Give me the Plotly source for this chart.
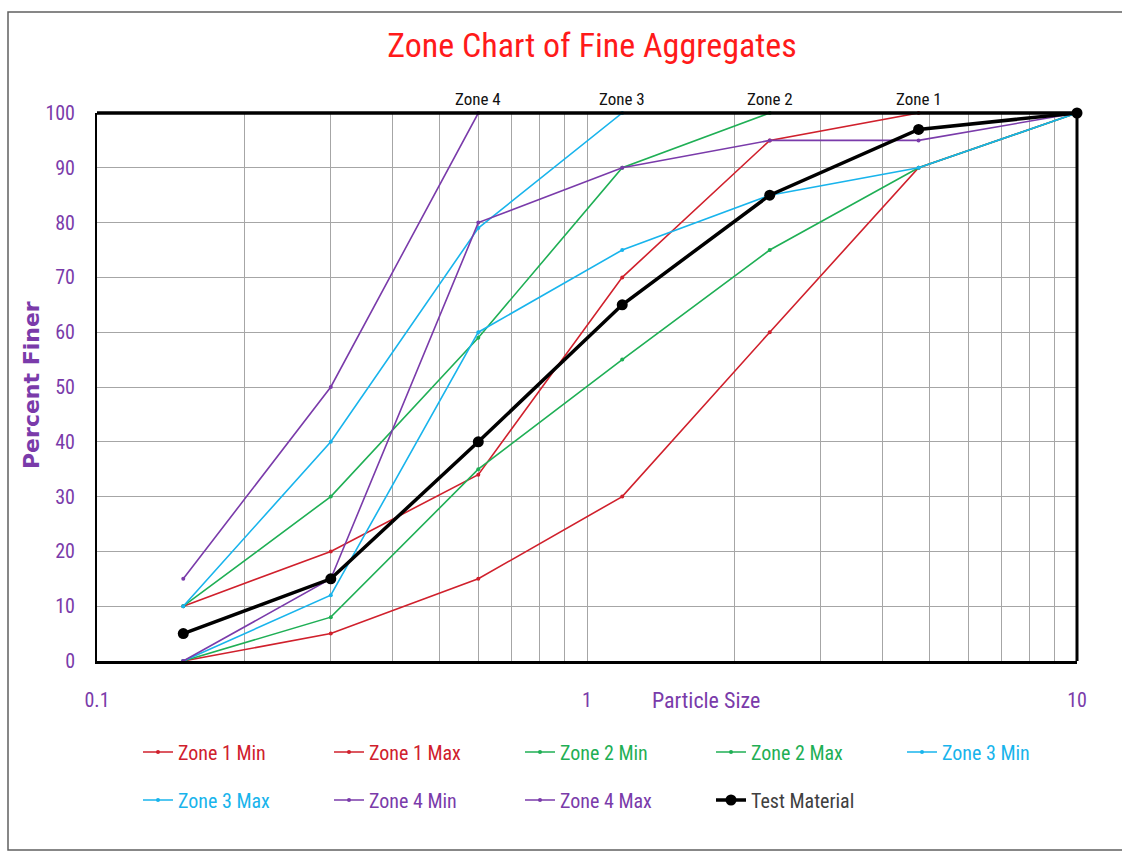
import math
import plotly.graph_objects as go

# ---------------- data ----------------
sieve = [0.15, 0.3, 0.6, 1.18, 2.36, 4.75, 10]

zone1_min = [0, 5, 15, 30, 60, 90, 100]
zone1_max = [10, 20, 34, 70, 95, 100]
zone2_min = [0, 8, 35, 55, 75, 90, 100]
zone2_max = [10, 30, 59, 90, 100]
zone3_min = [0, 12, 60, 75, 85, 90, 100]
zone3_max = [10, 40, 79, 100]
zone4_min = [0, 15, 80, 90, 95, 95, 100]
zone4_max = [15, 50, 100]
test_material = [5, 15, 40, 65, 85, 97, 100]

zone_labels = ["Zone 4", "Zone 3", "Zone 2", "Zone 1"]
zone_label_x = [0.6, 1.18, 2.36, 4.75]

x_ticks = [0.1, 1, 10]
x_tick_text = ["0.1", "1", "10"]
x_minor = [0.2, 0.3, 0.4, 0.5, 0.6, 0.7, 0.8, 0.9, 2, 3, 4, 5, 6, 7, 8, 9]
y_ticks = [0, 10, 20, 30, 40, 50, 60, 70, 80, 90, 100]

# ---------------- style ----------------
RED = "#D0202C"
GREEN = "#1FAF55"
CYAN = "#18B4EC"
PURPLE = "#7A3BAA"
BLACK = "#000000"
FONT = "Liberation Sans Narrow, Arial Narrow, Roboto Condensed, Roboto, sans-serif"

W, H = 1122, 853
L, R, T, B = 97, 45, 113, 192
PW, PH = W - L - R, H - T - B


def px_x(p):
    return (p - L) / PW


def px_y(p):
    return (H - B - p) / PH


series = [
    ("Zone 1 Min", zone1_min, RED, "legend"),
    ("Zone 1 Max", zone1_max, RED, "legend"),
    ("Zone 2 Min", zone2_min, GREEN, "legend"),
    ("Zone 2 Max", zone2_max, GREEN, "legend"),
    ("Zone 3 Min", zone3_min, CYAN, "legend"),
    ("Zone 3 Max", zone3_max, CYAN, "legend2"),
    ("Zone 4 Min", zone4_min, PURPLE, "legend2"),
    ("Zone 4 Max", zone4_max, PURPLE, "legend2"),
]

fig = go.Figure()
for name, vals, col, lg in series:
    fig.add_trace(go.Scatter(
        x=sieve[:len(vals)], y=vals, mode="lines+markers",
        name=f"<span style='color:{col}'>{name}</span>",
        line=dict(color=col, width=1.6),
        marker=dict(color=col, size=4, symbol="circle"),
        legend=lg, cliponaxis=False,
    ))

fig.add_trace(go.Scatter(
    x=sieve, y=test_material, mode="lines+markers",
    name="<span style='color:#404040'>Test Material</span>",
    line=dict(color=BLACK, width=3.5),
    marker=dict(color=BLACK, size=11, symbol="circle"),
    legend="legend2", cliponaxis=False,
))

annotations = []
for lab, xv in zip(zone_labels, zone_label_x):
    annotations.append(dict(
        x=math.log10(xv), y=100, xref="x", yref="y",
        text=lab, showarrow=False, yanchor="bottom", yshift=2,
        font=dict(family=FONT, size=17, color="#111111"),
    ))

annotations.append(dict(
    x=px_x(706), y=px_y(700), xref="paper", yref="paper",
    text="Particle Size", showarrow=False, xanchor="center", yanchor="middle",
    font=dict(family=FONT, size=22, color=PURPLE),
))
annotations.append(dict(
    x=px_x(31), y=px_y(385), xref="paper", yref="paper",
    text="<b>Percent Finer</b>", showarrow=False, textangle=-90,
    xanchor="center", yanchor="middle",
    font=dict(family="DejaVu Sans, sans-serif", size=22, color=PURPLE),
))

shapes = [
    # outer chart frame
    dict(type="rect", xref="paper", yref="paper",
         x0=px_x(8), x1=px_x(1130), y0=px_y(850), y1=px_y(12),
         line=dict(color="#606060", width=1.5), layer="below"),
    # thick top and right borders
    dict(type="line", xref="paper", yref="paper", x0=0, x1=1, y0=1, y1=1,
         line=dict(color=BLACK, width=3.5), layer="above"),
    dict(type="line", xref="paper", yref="paper", x0=1, x1=1, y0=0, y1=1,
         line=dict(color=BLACK, width=3), layer="above"),
]

legend_common = dict(
    orientation="h", xanchor="left", yanchor="middle",
    entrywidth=146, entrywidthmode="pixels", bgcolor="rgba(0,0,0,0)",
    font=dict(family=FONT, size=20), itemwidth=30, tracegroupgap=0,
)

fig.update_layout(
    width=W, height=H,
    margin=dict(l=L, r=R, t=T, b=B),
    paper_bgcolor="white", plot_bgcolor="white",
    title=dict(text="Zone Chart of Fine Aggregates", xref="container", x=592 / W,
               xanchor="center", y=1 - 45 / H, yanchor="middle",
               font=dict(family=FONT, size=34, color="#FF1A1A")),
    xaxis=dict(
        type="log", range=[-1, 1], tickvals=x_ticks, ticktext=x_tick_text,
        showgrid=True, gridcolor="#A6A6A6", gridwidth=1.3,
        minor=dict(tickvals=x_minor, showgrid=True, gridcolor="#A6A6A6", gridwidth=1.3, ticks=""),
        showline=True, linecolor=BLACK, linewidth=2.5, mirror=False,
        ticks="", ticklabelstandoff=19,
        tickfont=dict(family=FONT, size=20, color=PURPLE),
        zeroline=False,
    ),
    yaxis=dict(
        range=[0, 100], tickvals=y_ticks,
        showgrid=True, gridcolor="#A6A6A6", gridwidth=1.3,
        showline=True, linecolor=BLACK, linewidth=2, mirror=False,
        ticks="", ticklabelstandoff=16,
        tickfont=dict(family=FONT, size=20, color=PURPLE),
        zeroline=False,
    ),
    legend=dict(x=px_x(138), y=px_y(752), **legend_common),
    legend2=dict(x=px_x(138), y=px_y(800), **legend_common),
    annotations=annotations,
    shapes=shapes,
)

fig.write_html(
    "out.html",
    config={"displayModeBar": False},
    post_script="document.body.style.margin='0';document.body.style.padding='0';",
)
